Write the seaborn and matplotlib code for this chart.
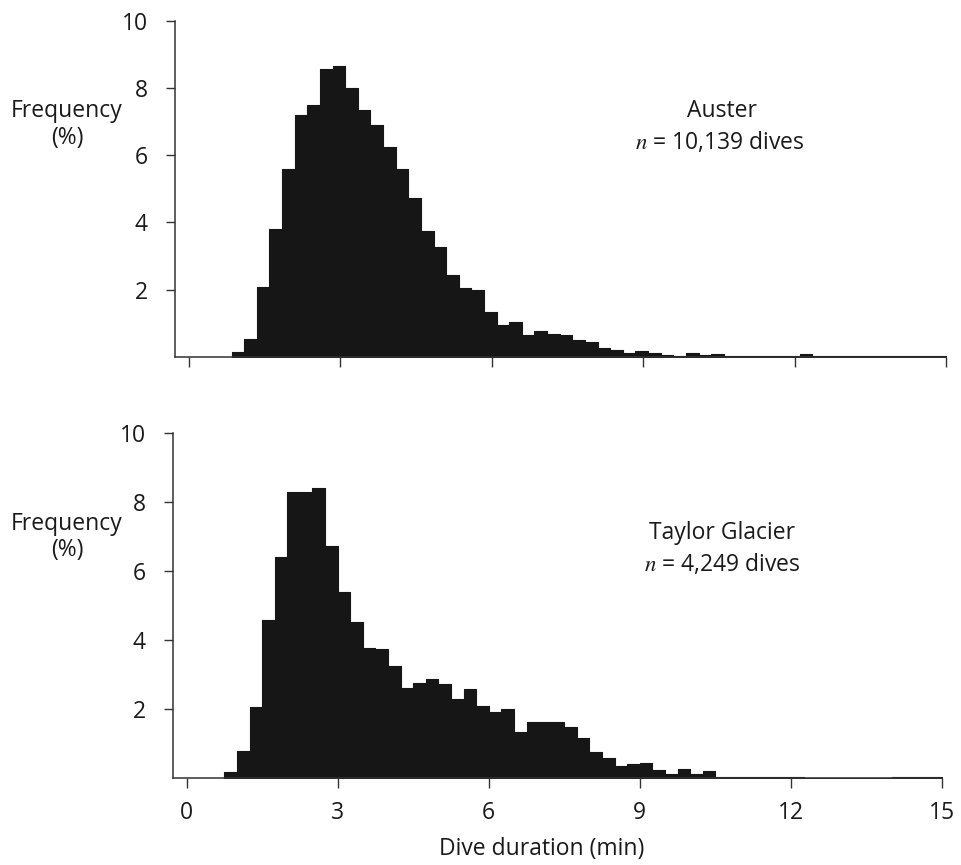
import numpy as np
import pandas as pd
import matplotlib
matplotlib.use("Agg")
import matplotlib.pyplot as plt
import seaborn as sns

# ---- data (frequency %, 0.25-min bins) ----
bin_width = 0.25
auster_first_edge = 0.85
auster_freq = [0.16, 0.55, 2.08, 3.8, 5.6, 7.2, 7.5, 8.55, 8.65, 8.0, 7.35, 6.9,
               6.25, 5.6, 4.72, 3.75, 3.28, 2.45, 2.06, 1.98, 1.34, 0.95, 1.03,
               0.66, 0.76, 0.68, 0.64, 0.52, 0.44, 0.27, 0.22, 0.13, 0.18, 0.13,
               0.05, 0.02, 0.12, 0.05, 0.1, 0.03, 0.03, 0.03, 0.02, 0.02, 0.02,
               0.08, 0.02, 0.02, 0.02, 0.02, 0.02, 0.02, 0.02, 0.04, 0.04, 0.04,
               0.04]
taylor_first_edge = 0.75
taylor_freq = [0.17, 0.78, 2.07, 4.6, 6.42, 8.29, 8.29, 8.42, 6.73, 5.4, 4.54,
               3.77, 3.75, 3.25, 2.63, 2.76, 2.88, 2.74, 2.3, 2.6, 2.1, 1.92,
               2.0, 1.34, 1.63, 1.63, 1.63, 1.5, 1.17, 0.77, 0.6, 0.37, 0.4,
               0.43, 0.23, 0.13, 0.27, 0.13, 0.2, 0.03, 0.03, 0.03, 0.03, 0.03,
               0.03, 0.03, 0.01, 0.01, 0.01, 0.01, 0.01, 0.01, 0.01, 0.03, 0.03,
               0.03, 0.03]
site_names = ["Auster", "Taylor Glacier"]
site_n = ["10,139", "4,249"]
x_ticks = [0, 3, 6, 9, 12, 15]
y_ticks = [2, 4, 6, 8, 10]

sns.set_style("ticks")
plt.rcParams['font.family'] = ['Open Sans', 'DejaVu Sans']
plt.rcParams['mathtext.fontset'] = 'stix'

W, H = 961, 865
fig = plt.figure(figsize=(W / 100, H / 100), dpi=100)
ax_top = fig.add_axes([175 / W, 1 - 357 / H, 771 / W, 336.3 / H])
ax_bot = fig.add_axes([173 / W, 1 - 778.3 / H, 769 / W, 345 / H])

bar_color = "#161616"
axis_color = "#333333"
text_color = "#1a1a1a"
FS = 16.5

def draw(ax, first_edge, freqs, show_labels):
    k = len(freqs)
    edges = [float(first_edge + bin_width * i) for i in range(k + 1)]
    centers = [(edges[i] + edges[i + 1]) / 2 for i in range(k)]
    df = pd.DataFrame({"duration": centers, "freq": freqs})
    sns.histplot(data=df, x="duration", weights="freq", bins=edges,
                 element="step", fill=True, color=bar_color, alpha=1,
                 linewidth=0.8, edgecolor=bar_color, ax=ax)
    ax.set_xlim(-0.27, 15)
    ax.set_ylim(0, 10)
    ax.set_xticks(x_ticks)
    ax.set_yticks(y_ticks)
    ax.set_xlabel("")
    ax.set_ylabel("")
    if not show_labels:
        ax.set_xticklabels([])
    for s in ["top", "right"]:
        ax.spines[s].set_visible(False)
    for s in ["left", "bottom"]:
        ax.spines[s].set_color(axis_color)
        ax.spines[s].set_linewidth(1.1)
    ax.tick_params(axis="both", colors=axis_color, labelcolor=text_color,
                   labelsize=FS, width=1.0)
    ax.tick_params(axis="y", length=6.5, pad=13)
    ax.tick_params(axis="x", length=7, pad=9)

draw(ax_top, auster_first_edge, auster_freq, False)
draw(ax_bot, taylor_first_edge, taylor_freq, True)

def ftext(x, y, s, **kw):
    fig.text(x / W, 1 - y / H, s, ha="center", va="center", fontsize=FS,
             color=text_color, **kw)

ftext(722, 111, site_names[0])
ftext(720, 143, f"$n$ = {site_n[0]} dives")
ftext(722, 533, site_names[1])
ftext(722, 565, f"$n$ = {site_n[1]} dives")

ftext(67, 111, "Frequency")
ftext(67, 138, "(%)")
ftext(67, 524, "Frequency")
ftext(67, 550, "(%)")
ftext(542, 849, "Dive duration (min)")

fig.savefig("out.png", dpi=100)
